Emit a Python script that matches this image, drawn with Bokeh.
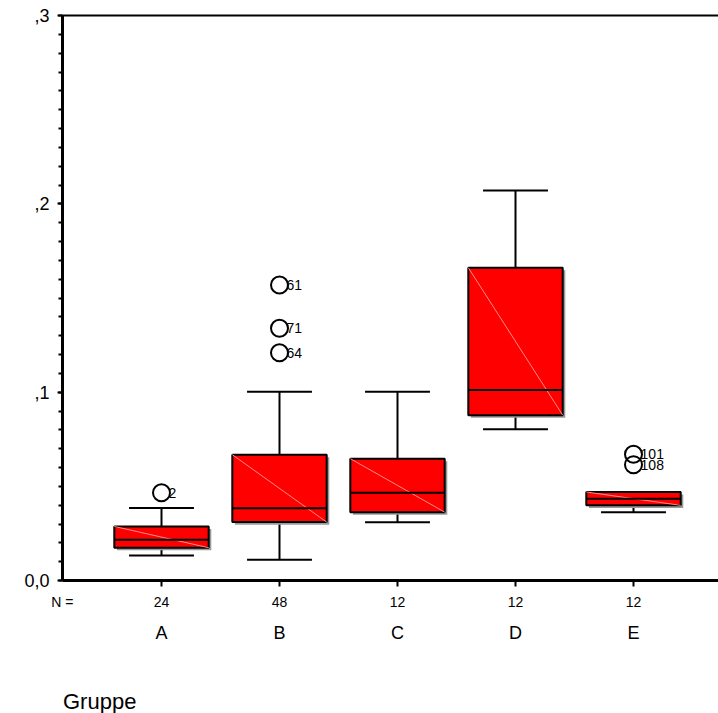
from bokeh.plotting import figure
from bokeh.layouts import column
from bokeh.models import FixedTicker, LinearAxis, Range1d, ColumnDataSource
from bokeh.embed import file_html
from bokeh.resources import INLINE
from bokeh.core.properties import value

# ---- data ----
groups = ["A", "B", "C", "D", "E"]
counts = ["24", "48", "12", "12", "12"]
whisker_low = [0.0133, 0.0110, 0.0309, 0.0803, 0.0363]
q1 = [0.0174, 0.0310, 0.0363, 0.0878, 0.0399]
median = [0.0216, 0.0383, 0.0466, 0.1011, 0.0434]
q3 = [0.0287, 0.0668, 0.0647, 0.1661, 0.0470]
whisker_high = [0.0385, 0.1002, 0.1002, 0.2071, 0.0470]

outlier_group = ["A", "B", "B", "B", "E", "E"]
outlier_value = [0.0466, 0.1569, 0.1339, 0.1209, 0.0670, 0.0615]
outlier_case = ["2", "61", "71", "64", "101", "108"]

y_ticks = [0, 0.1, 0.2, 0.3]
y_tick_labels = ["0,0", ",1", ",2", ",3"]

x_title = "Gruppe"
n_label = "N ="

FONT = "Liberation Sans"

# ---- geometry helpers ----
pos = [i + 1 for i in range(len(groups))]
gpos = {g: p for g, p in zip(groups, pos)}
half_box = 0.40
half_cap = 0.275
sh_x = 0.022
sh_y = 0.0014
PX = 118.0                      # pixels per category step
x0 = 1 - 99 / PX                # data x at the plot frame's left edge
x1 = x0 + 656 / PX

src = ColumnDataSource(dict(
    x=pos,
    left=[p - half_box for p in pos],
    right=[p + half_box for p in pos],
    sleft=[p - half_box + sh_x for p in pos],
    sright=[p + half_box + sh_x for p in pos],
    q1=q1, q3=q3, med=median, wl=whisker_low, wh=whisker_high,
    sq1=[v - sh_y for v in q1], sq3=[v - sh_y for v in q3],
    capl=[p - half_cap for p in pos], capr=[p + half_cap for p in pos],
))

osrc = ColumnDataSource(dict(
    x=[gpos[g] for g in outlier_group],
    tx=[gpos[g] + 0.06 for g in outlier_group],
    y=outlier_value,
    t=outlier_case,
))

# ---------------- main plot ----------------
p = figure(width=718, height=593,
           x_range=Range1d(x0, x1),
           y_range=Range1d(0, 0.3),
           output_backend="svg", toolbar_location=None,
           min_border_left=62, min_border_right=0, min_border_top=15,
           min_border_bottom=13)
p.grid.visible = False
p.outline_line_color = None
p.background_fill_color = "white"
p.border_fill_color = "white"

# whiskers & caps
p.segment(x0="x", y0="q3", x1="x", y1="wh", source=src, line_color="black", line_width=2)
p.segment(x0="x", y0="q1", x1="x", y1="wl", source=src, line_color="black", line_width=2)
p.segment(x0="capl", y0="wh", x1="capr", y1="wh", source=src, line_color="black", line_width=2)
p.segment(x0="capl", y0="wl", x1="capr", y1="wl", source=src, line_color="black", line_width=2)

# shadow + box
p.quad(left="sleft", right="sright", top="sq3", bottom="sq1", source=src,
       fill_color="#9a9a9a", line_color=None)
p.quad(left="left", right="right", top="q3", bottom="q1", source=src,
       fill_color="#ff0000", line_color="black", line_width=2)
p.segment(x0="left", y0="q3", x1="right", y1="q1", source=src,
          line_color="#ff8a8a", line_width=1)
p.segment(x0="left", y0="med", x1="right", y1="med", source=src,
          line_color="black", line_width=2)

# outliers
p.scatter(x="x", y="y", source=osrc, marker="circle", size=17,
          fill_color=None, line_color="black", line_width=2)
p.text(x="tx", y="y", text="t", source=osrc, text_font=value(FONT),
       text_font_size="14px", text_baseline="middle", text_align="left",
       text_color="black")

# y axis
ya = p.yaxis[0]
ya.ticker = FixedTicker(ticks=y_ticks, minor_ticks=[i / 100 for i in range(31)])
ya.major_label_overrides = {t: l for t, l in zip(y_ticks, y_tick_labels)}
ya.major_label_text_font = FONT
ya.major_label_text_font_size = "18px"
ya.major_label_text_color = "black"
ya.major_label_standoff = 8
ya.axis_line_width = 3
ya.axis_line_color = "black"
ya.major_tick_out = 5
ya.major_tick_in = 0
ya.minor_tick_out = 4
ya.minor_tick_in = 0
ya.major_tick_line_width = 2
ya.minor_tick_line_width = 2

# x axis: line and ticks only (labels drawn in the strip below)
xa = p.xaxis[0]
xa.ticker = FixedTicker(ticks=pos, minor_ticks=[])
xa.major_label_text_color = None
xa.major_label_text_font_size = "1px"
xa.major_label_standoff = 0
xa.axis_line_width = 3
xa.axis_line_color = "black"
xa.major_tick_out = 6
xa.major_tick_in = 0
xa.major_tick_line_width = 2
xa.minor_tick_line_color = None

# top border line
xt = LinearAxis(ticker=FixedTicker(ticks=[], minor_ticks=[]))
xt.axis_line_width = 2
xt.axis_line_color = "black"
xt.major_label_text_color = None
xt.major_label_text_font_size = "1px"
xt.major_tick_line_color = None
xt.minor_tick_line_color = None
xt.major_label_standoff = 0
p.add_layout(xt, "above")

# ---------------- label strip below (same x scale) ----------------
SH = 120
q = figure(width=718, height=SH,
           x_range=Range1d(x0, x1),
           y_range=Range1d(SH, 0),
           output_backend="svg", toolbar_location=None,
           x_axis_location=None,
           min_border_left=62, min_border_right=0,
           min_border_top=0, min_border_bottom=0)
q.grid.visible = False
q.outline_line_color = None
q.background_fill_color = "white"
q.border_fill_color = "white"

ROW_N, ROW_G, ROW_T = 8, 39, 108    # row centres within the strip (px)

# "N =" as the strip's left-axis label
qa = q.yaxis[0]
qa.ticker = FixedTicker(ticks=[ROW_N], minor_ticks=[])
qa.major_label_overrides = {ROW_N: n_label}
qa.major_label_text_font = FONT
qa.major_label_text_font_size = "14px"
qa.major_label_text_color = "black"
qa.major_label_standoff = -11
qa.axis_line_color = None
qa.major_tick_line_color = None
qa.minor_tick_line_color = None
qa.major_tick_out = 0
qa.major_tick_in = 0

lsrc = ColumnDataSource(dict(x=pos, counts=counts, groups=groups,
                             yn=[ROW_N] * len(pos), yg=[ROW_G] * len(pos)))
q.text(x="x", y="yn", text="counts", source=lsrc, text_font=value(FONT),
       text_font_size="14px", text_align="center", text_baseline="middle",
       text_color="black")
q.text(x="x", y="yg", text="groups", source=lsrc, text_font=value(FONT),
       text_font_size="18px", text_align="center", text_baseline="middle",
       text_color="black")
q.text(x=[x0 + 0.5 / PX], y=[ROW_T], text=[x_title], text_font=value(FONT),
       text_font_size="22px", text_align="left", text_baseline="middle",
       text_color="black")

layout = column(p, q, spacing=0)
open("out.html", "w").write(file_html(layout, INLINE))
